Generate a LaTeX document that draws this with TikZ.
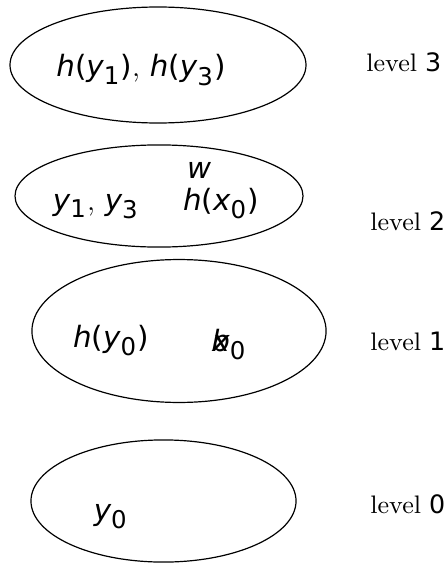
\documentclass[tikz,border=0pt]{standalone}
\usepackage{fontspec}
\setmainfont{DejaVu Sans}
\usepackage[italic]{mathastext}
\newfontfamily\levelfont{Latin Modern Roman}
\DeclareSymbolFont{sansup}{TU}{\rmdefault}{m}{n}
\DeclareSymbolFont{serifup}{TU}{lmr}{m}{n}
\AtBeginDocument{%
  \Umathcode`0="0 \symsansup `0 \Umathcode`1="0 \symsansup `1
  \Umathcode`2="0 \symsansup `2 \Umathcode`3="0 \symsansup `3
  \Umathcode`(="4 \symsansup `( \Umathcode`)="5 \symsansup `)
  \Umathcode`,="6 \symserifup `,}
\usetikzlibrary{shapes.geometric,positioning}
\tikzset{
  levelset/.style={ellipse, draw=black, line width=0.45pt, inner sep=0pt},
  member/.style={anchor=base, font=\fontsize{11}{13}\selectfont},
  levelname/.style={anchor=base west, font=\fontsize{9.5}{12}\selectfont},
}
\newcommand{\lvl}[1]{{\levelfont level} $#1$}

\begin{document}
\begin{tikzpicture}[x=0.375pt, y=-0.375pt]
  \useasboundingbox (0,0) rectangle (448,564);
  % the four level sets
  \node[levelset, minimum width=111pt, minimum height=43.5pt] (s3) at (158,65) {};
  \node[levelset, minimum width=108pt, minimum height=38.3pt] (s2) at (159,196) {};
  \node[levelset, minimum width=110.3pt, minimum height=53.6pt] (s1) at (179,331) {};
  \node[levelset, minimum width=99.4pt, minimum height=45.8pt] (s0) at (163.5,501) {};
  % members
  \node[member] (hy13) at (141,77) {$h(y_1),\, h(y_3)$};
  \node[member] (w) at (199,178) {$w$};
  \node[member] (y13) at (96,210) {$y_1,\, y_3$};
  \node[member] (hx0) at (221,210) {$h(x_0)$};
  \node[member] (hy0) at (111,347) {$h(y_0)$};
  \node[member, anchor=base west] (b) at (202,351) {$b$};
  \node[member, anchor=base west] (x0) at (203,351) {$x_0$};
  \node[member] (y0) at (111,520) {$y_0$};
  % level names
  \node[levelname] (l3) at (357,72) {\lvl{3}};
  \node[levelname] (l2) at (361,230) {\lvl{2}};
  \node[levelname] (l1) at (361,350) {\lvl{1}};
  \node[levelname] (l0) at (361,513) {\lvl{0}};
\end{tikzpicture}
\end{document}
